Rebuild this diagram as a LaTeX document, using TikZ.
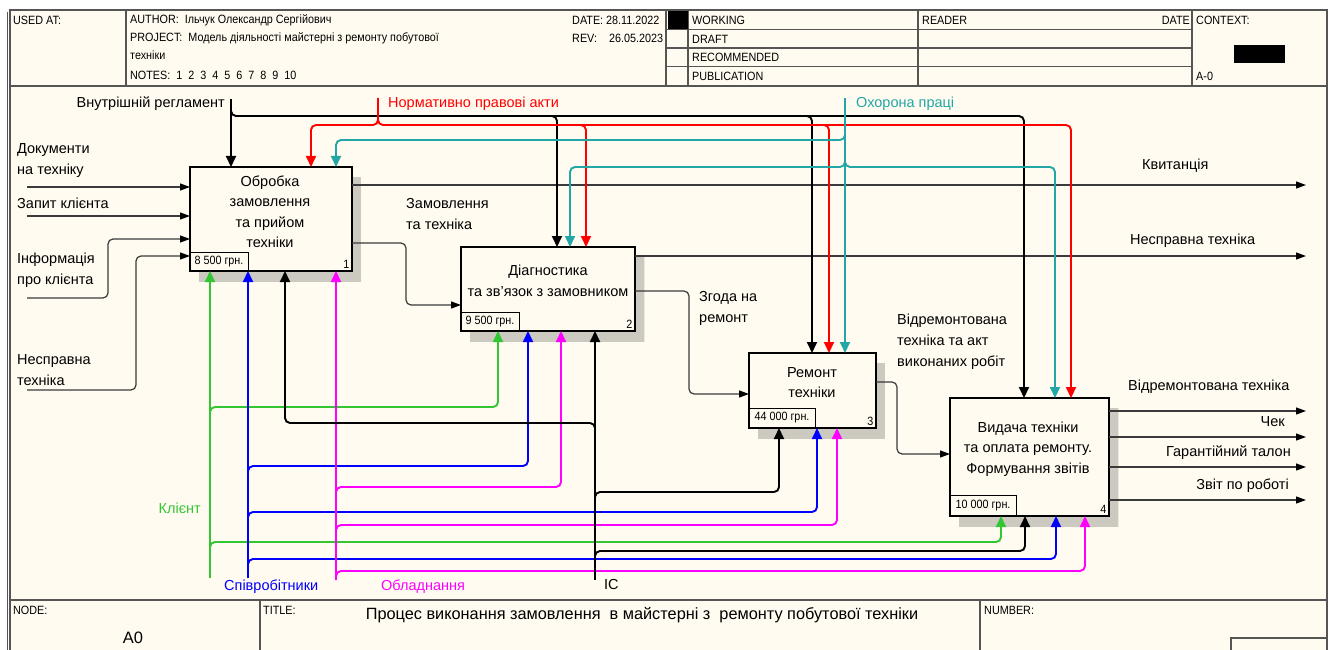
\documentclass[tikz,border=0pt]{standalone}
\usepackage{fontspec}
\setmainfont{Liberation Sans}
\newfontfamily\hdrfont[FakeStretch=0.9]{Liberation Sans}
\usetikzlibrary{arrows.meta,patterns.meta,shadows}
\definecolor{bg}{HTML}{FFFBF0}
\definecolor{cgreen}{HTML}{33C633}
\definecolor{cblue}{HTML}{0000FF}
\definecolor{cmag}{HTML}{FF00FF}
\definecolor{cred}{HTML}{FF0000}
\definecolor{cteal}{HTML}{22A6A6}
\definecolor{fgray}{HTML}{3A3A3A}
\definecolor{framegray}{HTML}{555555}
\begin{document}
\begin{tikzpicture}[x=1pt,y=-1pt,
  lbl/.style={font=\fontsize{14.5}{21}\selectfont, inner sep=0pt},
  hdr/.style={font=\hdrfont\fontsize{12}{13}\selectfont, inner sep=0pt, anchor=west},
  box/.style={draw=black, line width=2pt, fill=bg, inner sep=0pt, outer sep=0pt,
    general shadow={shadow xshift=9pt, shadow yshift=-10pt, pattern={Dots[distance=2pt,radius=0.65pt]}, pattern color=black!85}},
  cost/.style={draw=black, line width=0.9pt, inner sep=0pt, outer sep=0pt, font=\hdrfont\fontsize{12}{13}\selectfont},
  numtxt/.style={font=\hdrfont\fontsize{12}{13}\selectfont, inner sep=2.5pt},
  boxtxt/.style={font=\fontsize{14.5}{20.5}\selectfont, align=center, inner sep=0pt},
  flow/.style={draw=fgray, line width=1.2pt, rounded corners=5pt, -{Triangle[length=10pt,width=7pt,color=black]}},
  ctl/.style={line width=1.9pt, rounded corners=5pt, -{Triangle[length=11pt,width=10pt]}},
  frm/.style={draw=framegray, line width=1.1pt}
]
\useasboundingbox (0,0) rectangle (1331,650);
\fill[white] (0,0) rectangle (1331,650);
\fill[bg] (10,10) rectangle (1327,652);
% frame
\draw[frm] (10,10) rectangle (1327,652);
\draw[draw=framegray, line width=1pt] (7,12) -- (7,652);
% header
\draw[frm] (10,86) -- (1327,86);
\draw[frm] (126,10) -- (126,86);
\draw[frm] (666,10) -- (666,86);
\draw[frm] (688,10) -- (688,86);
\draw[frm] (918,10) -- (918,86);
\draw[frm] (1192,10) -- (1192,86);
\draw[frm] (666,29.5) -- (1192,29.5);
\draw[frm] (666,48) -- (1192,48);
\draw[frm] (666,66.5) -- (1192,66.5);
\fill[black] (668,11) rectangle (688,29.5);
\fill[black] (1234,45) rectangle (1285,63);
\node[hdr] (h1) at (13,20) {USED AT:};
\node[hdr] (h2) at (130,20) {AUTHOR:\ \ Ільчук Олександр Сергійович};
\node[hdr] (h3) at (130,38) {PROJECT:\ \ Модель діяльності майстерні з ремонту побутової};
\node[hdr] (h4) at (130,55) {техніки};
\node[hdr] (h5) at (130,75) {NOTES:\ \ 1\ \ 2\ \ 3\ \ 4\ \ 5\ \ 6\ \ 7\ \ 8\ \ 9\ \ 10};
\node[hdr] (h6) at (572,20) {DATE: 28.11.2022};
\node[hdr] (h7) at (572,38) {REV:\ \ \ \ 26.05.2023};
\node[hdr] (h8) at (692,20) {WORKING};
\node[hdr] (h9) at (692,39) {DRAFT};
\node[hdr] (h10) at (692,57) {RECOMMENDED};
\node[hdr] (h11) at (692,76) {PUBLICATION};
\node[hdr] (h12) at (922,20) {READER};
\node[hdr, anchor=east] (h13) at (1190,20) {DATE};
\node[hdr] (h14) at (1196,20) {CONTEXT:};
\node[hdr] (h15) at (1196,76) {A-0};
% footer
\draw[frm] (10,600) -- (1327,600);
\draw[frm] (260,600) -- (260,652);
\draw[frm] (980,600) -- (980,652);
\draw[frm] (1231,638) rectangle (1327,652);
\node[hdr] (f1) at (13,610) {NODE:};
\node[hdr] (f2) at (263,610) {TITLE:};
\node[hdr] (f3) at (984,610) {NUMBER:};
\node[font=\fontsize{16.3}{18}\selectfont, inner sep=0pt] (f4) at (642,615) {Процес виконання замовлення~ в майстерні з~ ремонту побутової техніки};
\node[font=\fontsize{16.5}{18}\selectfont, inner sep=0pt] (f5) at (133,638) {A0};
% boxes
\node[box, minimum width=162pt, minimum height=104pt] (b1) at (271,219) {};
\node[box, minimum width=174pt, minimum height=84pt] (b2) at (548,289) {};
\node[box, minimum width=127pt, minimum height=75pt] (b3) at (812.5,390.5) {};
\node[box, minimum width=159pt, minimum height=118pt] (b4) at (1029.5,457) {};
\node[cost, minimum width=58pt, minimum height=19pt, anchor=south west] (c1) at (b1.south west) {8 500 грн.};
\node[cost, minimum width=58pt, minimum height=19pt, anchor=south west] (c2) at (b2.south west) {9 500 грн.};
\node[cost, minimum width=66pt, minimum height=20pt, anchor=south west] (c3) at (b3.south west) {44 000 грн.};
\node[cost, minimum width=66pt, minimum height=21pt, anchor=south west] (c4) at (b4.south west) {10 000 грн.};
\node[numtxt, anchor=south east] (n1) at (b1.south east) {1};
\node[numtxt, anchor=south east] (n2) at (b2.south east) {2};
\node[numtxt, anchor=south east] (n3) at (b3.south east) {3};
\node[numtxt, anchor=south east] (n4) at (b4.south east) {4};
\node[boxtxt] (t1) at (270,212) {Обробка\\замовлення\\та прийом\\техніки};
\node[boxtxt] (t2) at (548,281) {Діагностика\\та зв'язок з замовником};
\node[boxtxt] (t3) at (812,382.5) {Ремонт\\техніки};
\node[boxtxt] (t4) at (1028,449) {Видача техніки\\та оплата ремонту.\\Формування звітів};
% inputs
\draw[flow] (27,187) -- (b1.west |- 0,187);
\draw[flow] (27,216) -- (b1.west |- 0,216);
\draw[flow] (27,298) -- (108,298) -- (108,239) -- (b1.west |- 0,239);
\draw[flow] (27,390) -- (136,390) -- (136,256) -- (b1.west |- 0,256);
% internal flows
\draw[flow] (b1.east |- 0,243) -- (406,243) -- (406,305) -- (b2.west |- 0,305);
\draw[flow] (b2.east |- 0,291) -- (689,291) -- (689,394) -- (b3.west |- 0,394);
\draw[flow] (b3.east |- 0,382) -- (897,382) -- (897,454) -- (b4.west |- 0,454);
% outputs
\draw[flow] (b1.east |- 0,185) -- (1306,185);
\draw[flow] (b2.east |- 0,256) -- (1306,256);
\draw[flow] (b4.east |- 0,411) -- (1306,411);
\draw[flow] (b4.east |- 0,437) -- (1306,437);
\draw[flow] (b4.east |- 0,467) -- (1306,467);
\draw[flow] (b4.east |- 0,500) -- (1306,500);
% controls black
\draw[ctl] (231,99) -- (231,0 |- b1.north);
\draw[ctl] (231,106) -- (231,116) -- (557,116) -- (557,0 |- b2.north);
\draw[ctl] (540,116) -- (812,116) -- (812,0 |- b3.north);
\draw[ctl] (795,116) -- (1024,116) -- (1024,0 |- b4.north);
% controls red
\draw[ctl,cred] (378,98) -- (378,125) -- (311,125) -- (311,0 |- b1.north);
\draw[ctl,cred] (378,115) -- (378,125) -- (1071,125) -- (1071,0 |- b4.north);
\draw[ctl,cred] (570,125) -- (586,125) -- (586,0 |- b2.north);
\draw[ctl,cred] (810,125) -- (829,125) -- (829,0 |- b3.north);
% controls teal
\draw[ctl,cteal] (845,98) -- (845,0 |- b3.north);
\draw[ctl,cteal] (845,130) -- (845,140) -- (336,140) -- (336,0 |- b1.north);
\draw[ctl,cteal] (845,157) -- (845,167) -- (570,167) -- (570,0 |- b2.north);
\draw[ctl,cteal] (845,157) -- (845,167) -- (1055,167) -- (1055,0 |- b4.north);
% mechanisms green
\draw[ctl,cgreen] (210,578) -- (210,0 |- b1.south);
\draw[ctl,cgreen] (210,419) -- (210,407) -- (498,407) -- (498,0 |- b2.south);
\draw[ctl,cgreen] (210,554) -- (210,542) -- (1001,542) -- (1001,0 |- b4.south);
% blue
\draw[ctl,cblue] (248,578) -- (248,0 |- b1.south);
\draw[ctl,cblue] (248,478) -- (248,466) -- (528,466) -- (528,0 |- b2.south);
\draw[ctl,cblue] (248,524) -- (248,512) -- (817,512) -- (817,0 |- b3.south);
\draw[ctl,cblue] (248,571) -- (248,559) -- (1056,559) -- (1056,0 |- b4.south);
% magenta
\draw[ctl,cmag] (336,580) -- (336,0 |- b1.south);
\draw[ctl,cmag] (336,499) -- (336,487) -- (561,487) -- (561,0 |- b2.south);
\draw[ctl,cmag] (336,537) -- (336,525) -- (837,525) -- (837,0 |- b3.south);
\draw[ctl,cmag] (336,580) -- (336,571) -- (1085,571) -- (1085,0 |- b4.south);
% black IC
\draw[ctl] (595,580) -- (595,0 |- b2.south);
\draw[ctl] (595,435) -- (595,423) -- (285,423) -- (285,0 |- b1.south);
\draw[ctl] (595,504) -- (595,492) -- (779,492) -- (779,0 |- b3.south);
\draw[ctl] (595,563) -- (595,551) -- (1025,551) -- (1025,0 |- b4.south);
% labels
\node[lbl, anchor=east] (l1) at (225,104) {Внутрішній регламент};
\node[lbl, anchor=west, text=cred] (l2) at (388,104) {Нормативно правові акти};
\node[lbl, anchor=west, text=cteal] (l3) at (856,104) {Охорона праці};
\node[lbl, anchor=west, align=left] (l4) at (17,161) {Документи\\на техніку};
\node[lbl, anchor=west] (l5) at (17,203) {Запит клієнта};
\node[lbl, anchor=west, align=left] (l6) at (17,270) {Інформація\\про клієнта};
\node[lbl, anchor=west, align=left] (l7) at (17,370) {Несправна\\техніка};
\node[lbl, anchor=west, align=left] (l8) at (406,214) {Замовлення\\та техніка};
\node[lbl, anchor=west, align=left] (l9) at (699,308) {Згода на\\ремонт};
\node[lbl, anchor=west, align=left] (l10) at (897,342) {Відремонтована\\техніка та акт\\виконаних робіт};
\node[lbl, anchor=west] (l11) at (1142,166) {Квитанція};
\node[lbl, anchor=west] (l12) at (1130,241) {Несправна техніка};
\node[lbl, anchor=west] (l13) at (1128,387) {Відремонтована техніка};
\node[lbl, anchor=east] (l14) at (1285,422) {Чек};
\node[lbl, anchor=east] (l15) at (1291,453) {Гарантійний талон};
\node[lbl, anchor=east] (l16) at (1289,486) {Звіт по роботі};
\node[lbl, anchor=east, text=cgreen] (l17) at (201,508) {Клієнт};
\node[lbl, anchor=west, text=cblue] (l18) at (224,587) {Співробітники};
\node[lbl, anchor=west, text=cmag] (l19) at (381,587) {Обладнання};
\node[lbl, anchor=west] (l20) at (604,585) {ІС};
\end{tikzpicture}
\end{document}
